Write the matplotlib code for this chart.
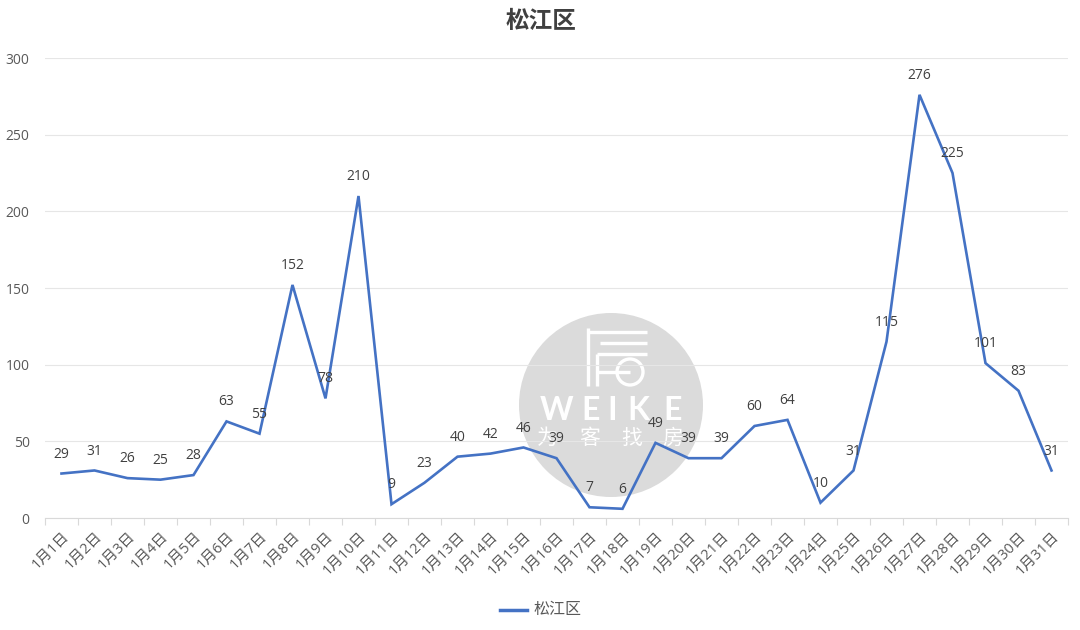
import matplotlib
matplotlib.use("Agg")
import matplotlib.pyplot as plt
from matplotlib.patches import Circle
from matplotlib.ticker import FixedLocator

plt.rcParams['font.family'] = ['Open Sans', 'Noto Sans CJK SC', 'DejaVu Sans']

series_name = "松江区"
days = [f"1月{d}日" for d in range(1, 32)]
values = [29, 31, 26, 25, 28, 63, 55, 152, 78, 210, 9, 23, 40, 42, 46, 39,
          7, 6, 49, 39, 39, 60, 64, 10, 31, 115, 276, 225, 101, 83, 31]
y_ticks = [0, 50, 100, 150, 200, 250, 300]

W, H = 1080, 630
fig = plt.figure(figsize=(W / 100, H / 100), dpi=100)
ax = fig.add_axes([45 / W, 112 / H, (1068 - 45) / W, 460 / H], zorder=2)
ax.patch.set_alpha(0)

x = list(range(len(days)))
line_color = "#4472C4"
ax.plot(x, values, color=line_color, lw=1.9, zorder=3, solid_joinstyle="miter")

for xi, v in zip(x, values):
    ax.annotate(str(v), (xi, v), xytext=(0, 14), textcoords="offset points",
                ha="center", va="center", fontsize=10, color="#404040", zorder=4)

ax.set_xlim(-0.5, len(days) - 0.5)
ax.set_ylim(0, 300)
ax.set_yticks(y_ticks)
ax.set_yticklabels([str(t) for t in y_ticks], fontsize=10, color="#595959")
ax.tick_params(axis="y", length=0, pad=11)
ax.grid(axis="y", color="#e6e6e6", lw=0.8, zorder=0)
ax.set_axisbelow(True)

ax.set_xticks(x)
ax.set_xticklabels(days, rotation=45, ha="right", rotation_mode="anchor",
                   fontsize=10.5, color="#595959")
ax.tick_params(axis="x", which="major", length=0, pad=8)
ax.xaxis.set_minor_locator(FixedLocator([i - 0.5 for i in range(len(days) + 1)]))
ax.tick_params(axis="x", which="minor", length=5, color="#d9d9d9", width=0.8)

for side in ("left", "right", "top"):
    ax.spines[side].set_visible(False)
ax.spines["bottom"].set_color("#d9d9d9")
ax.spines["bottom"].set_linewidth(0.8)

# brand watermark
wm = fig.add_axes([0, 0, 1, 1], zorder=1)
wm.set_xlim(0, W)
wm.set_ylim(H, 0)
wm.axis("off")
wm.patch.set_alpha(0)
wm.add_patch(Circle((611, 405), 92, color="#cfcfcf", alpha=0.75, lw=0))
wc = "white"
wm.plot([588, 588], [328, 386], color=wc, lw=2.4, solid_capstyle="butt")
wm.plot([588, 647], [332, 332], color=wc, lw=2.4, solid_capstyle="butt")
wm.plot([600, 647], [343, 343], color=wc, lw=2.4, solid_capstyle="butt")
wm.plot([597, 647], [354, 354], color=wc, lw=2.4, solid_capstyle="butt")
wm.plot([597, 597], [354, 386], color=wc, lw=2.4, solid_capstyle="butt")
wm.add_patch(Circle((630, 372), 13, fill=False, ec=wc, lw=2.4))
wm.plot([597, 630], [372, 372], color=wc, lw=2.4, solid_capstyle="butt")
for ch, cx in zip("WEIKE", [557, 591, 612, 638, 673]):
    wm.text(cx, 411, ch, ha="center", va="center", fontsize=23, color=wc,
            family=["Lato", "DejaVu Sans"], fontweight="bold")
for ch, cx in zip("为客找房", [547, 590, 632, 673]):
    wm.text(cx, 438, ch, ha="center", va="center", fontsize=15, color=wc,
            family=["Noto Sans CJK SC"])

fig.text(541 / W, 1 - 22 / H, series_name, ha="center", va="center",
         fontsize=17, fontweight="bold", color="#404040")

# legend
fig.lines.append(plt.Line2D([500 / W, 527 / W], [1 - 610 / H, 1 - 610 / H],
                            color=line_color, lw=2.5, transform=fig.transFigure))
fig.text(533 / W, 1 - 610 / H, series_name, ha="left", va="center",
         fontsize=11.5, color="#595959")

fig.savefig("out.png", dpi=100, facecolor="white")
